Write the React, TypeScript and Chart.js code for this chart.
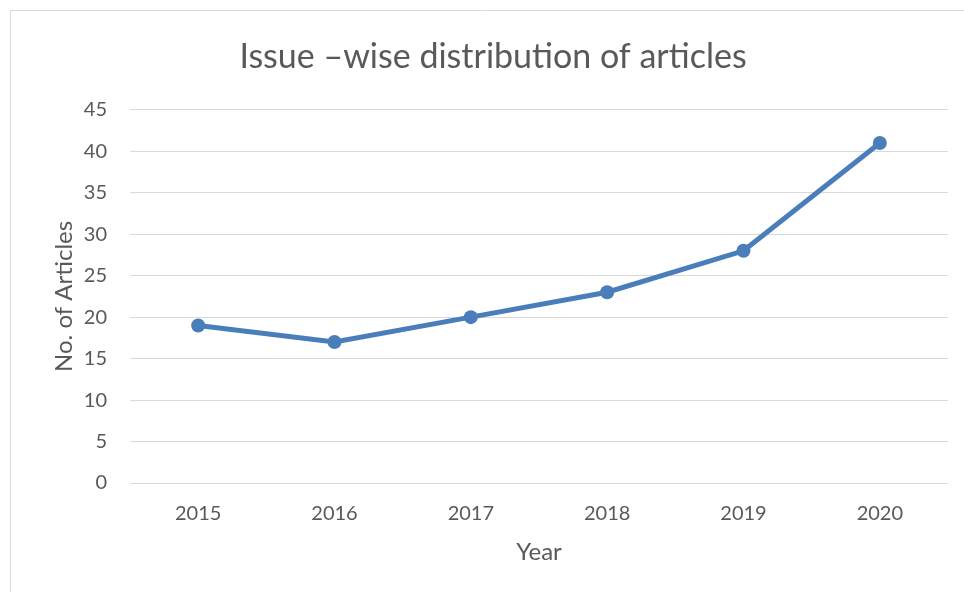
import React, { useEffect, useRef } from "react";
import { Chart, registerables } from "chart.js";

Chart.register(...registerables);

const years = ["2015", "2016", "2017", "2018", "2019", "2020"];
const articles = [19, 17, 20, 23, 28, 41];
const chartTitle = "Issue \u2013wise distribution of articles";
const xTitle = "Year";
const yTitle = "No. of Articles";

const FONT = "Lato, 'Open Sans', sans-serif";
const TEXT = "#595959";
const GRID = "#d9d9d9";
const LINE = "#4a7ebb";

const borderPlugin = {
  id: "outerBorder",
  beforeDraw(chart: any) {
    const ctx = chart.ctx;
    ctx.save();
    ctx.strokeStyle = GRID;
    ctx.lineWidth = 1;
    ctx.beginPath();
    ctx.moveTo(10.5, 592);
    ctx.lineTo(10.5, 10.5);
    ctx.lineTo(964, 10.5);
    ctx.stroke();
    ctx.restore();
  },
};

export default function App() {
  const ref = useRef<HTMLCanvasElement>(null);
  useEffect(() => {
    if (!ref.current) return;
    const chart = new Chart(ref.current, {
      type: "line",
      data: {
        labels: years,
        datasets: [
          {
            data: articles,
            borderColor: LINE,
            backgroundColor: LINE,
            borderWidth: 5,
            pointRadius: 7,
            pointBackgroundColor: LINE,
            pointBorderWidth: 0,
            tension: 0,
          },
        ],
      },
      options: {
        responsive: false,
        animation: false,
        layout: { padding: { top: 10, left: 38, right: 16, bottom: 20 } },
        plugins: {
          legend: { display: false },
          tooltip: { enabled: false },
          title: {
            display: true,
            text: chartTitle,
            color: TEXT,
            font: { family: FONT, size: 34, weight: "normal" },
            padding: { top: 27, bottom: 32 },
          },
        },
        scales: {
          x: {
            offset: true,
            grid: { display: false, drawTicks: false },
            border: { display: false },
            ticks: { color: TEXT, font: { family: FONT, size: 20 }, padding: 19 },
            title: {
              display: true,
              text: xTitle,
              color: TEXT,
              font: { family: FONT, size: 24 },
              padding: { top: 0, bottom: 5 },
            },
            afterFit: (s: any) => {
              s.height = 89;
            },
          },
          y: {
            min: 0,
            max: 45,
            ticks: { stepSize: 5, color: TEXT, font: { family: FONT, size: 20 }, padding: 23 },
            grid: { color: GRID, lineWidth: 1, drawTicks: false },
            border: { display: false },
            title: {
              display: true,
              text: yTitle,
              color: TEXT,
              font: { family: FONT, size: 24 },
              padding: { top: 12, bottom: 0 },
            },
            afterFit: (s: any) => {
              s.width = 92;
            },
          },
        },
      },
      plugins: [borderPlugin],
    });
    return () => chart.destroy();
  }, []);
  return (
    <div style={{ position: "fixed", left: 0, top: 0, width: 964, height: 592, background: "#fff" }}>
      <canvas ref={ref} width={964} height={592} style={{ width: 964, height: 592, display: "block" }} />
    </div>
  );
}
